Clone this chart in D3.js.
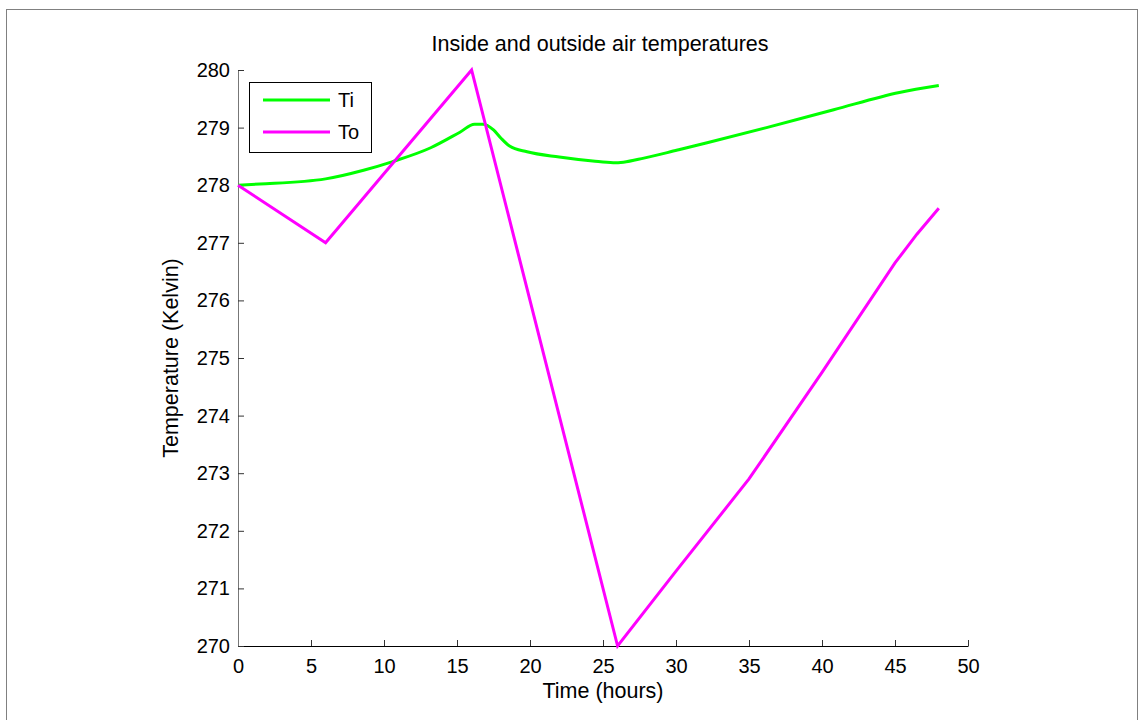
<html>
<head>
<script src='https://d3js.org/d3.v7.min.js'></script>
<style>
  body { margin: 0; background: #fff; }
  text { font-family: 'Liberation Sans', Arial, sans-serif; fill: #000; }
</style>
</head>
<body>
<svg width=1139 height=720></svg>
<script>
  // inside air temperature
  const TI_TIME = [0, 1.5, 6, 8.6, 10.6, 13.2, 15.2, 16.2, 16.8, 17.5, 18.0, 18.6, 19.8, 22, 24.3, 25.7, 26.4, 27.8, 30.1, 32.2, 36.2, 40.8, 45.3, 48];
  const TI_TEMP = [278.0, 278.02, 278.11, 278.26, 278.41, 278.65, 278.92, 279.06, 279.06, 278.96, 278.82, 278.68, 278.58, 278.49, 278.42, 278.39, 278.40, 278.47, 278.61, 278.74, 279.0, 279.31, 279.61, 279.73];

  // outside air temperature
  const TO_TIME = [0, 6, 16, 26, 30, 35, 40, 45, 46.5, 48];
  const TO_TEMP = [278, 277, 280, 270, 271.3, 272.9, 274.75, 276.65, 277.15, 277.6];

  const X_TICKS = [0, 5, 10, 15, 20, 25, 30, 35, 40, 45, 50];
  const Y_TICKS = [270, 271, 272, 273, 274, 275, 276, 277, 278, 279, 280];

  const svg = d3.select('svg');

  // dotted figure border
  svg.append('rect').attr('x', 6.5).attr('y', 9.5).attr('width', 1131).attr('height', 720)
    .attr('fill', 'none').attr('stroke', '#000').attr('stroke-dasharray', '1,1');

  const x = d3.scaleLinear().domain([0, 50]).range([238, 968]);
  const y = d3.scaleLinear().domain([270, 280]).range([646, 70]);

  const xAxis = svg.append('g').attr('transform', 'translate(0,646)')
    .call(d3.axisBottom(x).tickValues(X_TICKS).tickSize(-6).tickPadding(13).tickSizeOuter(0));
  xAxis.select('.domain').attr('stroke', '#000');
  xAxis.selectAll('.tick line').attr('stroke', '#333');
  xAxis.selectAll('text').attr('font-size', 20);

  const yAxis = svg.append('g').attr('transform', 'translate(238,0)')
    .call(d3.axisLeft(y).tickValues(Y_TICKS).tickSize(-6).tickPadding(8).tickSizeOuter(0));
  yAxis.select('.domain').attr('stroke', '#777');
  yAxis.selectAll('.tick line').attr('stroke', '#333');
  yAxis.selectAll('text').attr('font-size', 20);

  const line = d3.line().x(d => x(d[0])).y(d => y(d[1]));
  const smooth = d3.line().x(d => x(d[0])).y(d => y(d[1])).curve(d3.curveMonotoneX);

  svg.append('path').datum(TI_TIME.map((t, i) => [t, TI_TEMP[i]]))
    .attr('d', smooth).attr('fill', 'none').attr('stroke', '#00ff00').attr('stroke-width', 3);
  svg.append('path').datum(TO_TIME.map((t, i) => [t, TO_TEMP[i]]))
    .attr('d', line).attr('fill', 'none').attr('stroke', '#ff00ff').attr('stroke-width', 3);

  // title and axis labels
  svg.append('text').attr('x', 600).attr('y', 51).attr('text-anchor', 'middle')
    .attr('font-size', 21.5).text('Inside and outside air temperatures');
  svg.append('text').attr('x', 603).attr('y', 698).attr('text-anchor', 'middle')
    .attr('font-size', 21.5).text('Time (hours)');
  svg.append('text').attr('transform', 'translate(178,358) rotate(-90)').attr('text-anchor', 'middle')
    .attr('font-size', 21.5).text('Temperature (Kelvin)');

  // legend
  const legend = svg.append('g');
  legend.append('rect').attr('x', 249.5).attr('y', 82.5).attr('width', 122).attr('height', 70)
    .attr('fill', '#fff').attr('stroke', '#000');
  [['Ti', '#00ff00', 100], ['To', '#ff00ff', 132]].forEach(function(item) {
    legend.append('line').attr('x1', 263).attr('x2', 330).attr('y1', item[2]).attr('y2', item[2])
      .attr('stroke', item[1]).attr('stroke-width', 3);
    legend.append('text').attr('x', 338).attr('y', item[2] + 7).attr('font-size', 20).text(item[0]);
  });
</script>
</body>
</html>
